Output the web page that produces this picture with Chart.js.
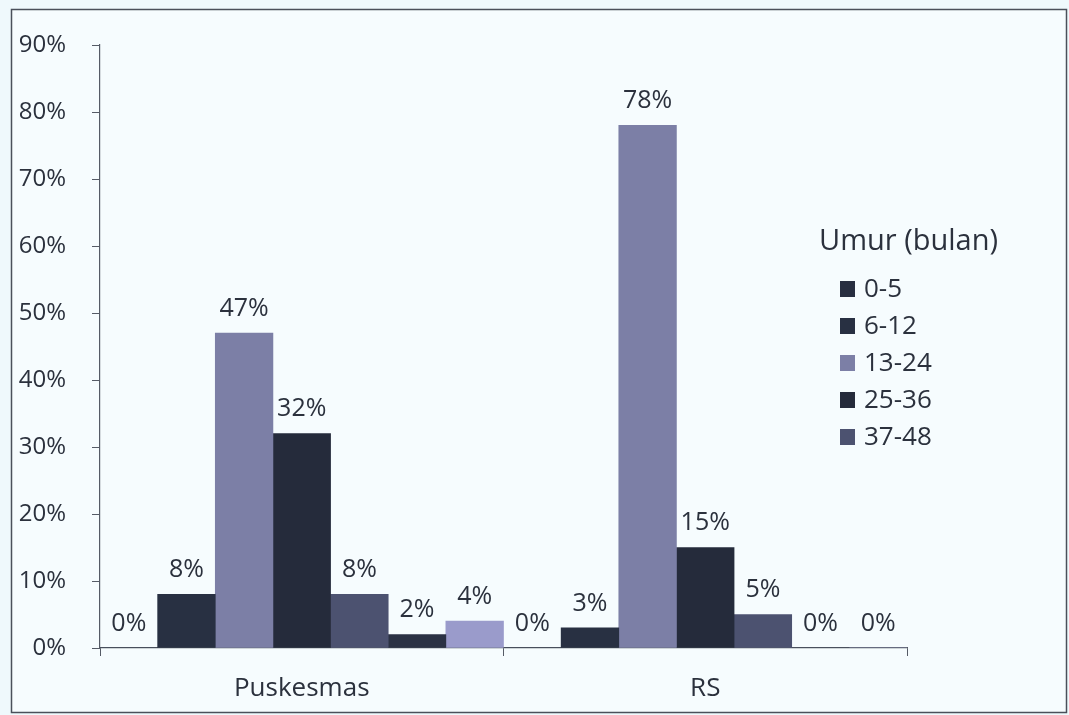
<!DOCTYPE html>
<html>
<head>
<meta charset="utf-8">
<title>Umur (bulan)</title>
<script src="https://cdn.jsdelivr.net/npm/chart.js@4.4.1/dist/chart.umd.min.js"></script>
<style>
    html, body { margin: 0; padding: 0; background: #eff9fc; }
    #wrap { width: 1069px; height: 715px; position: relative; }
</style>
</head>
<body>
<div id="wrap"><canvas id="umurChart"></canvas></div>
<script>
// Age groups per place of care (percent)
const places = ['Puskesmas', 'RS'];
const ageGroups = ['0-5', '6-12', '13-24', '25-36', '37-48', '49-60', '>60'];
const shownInLegend = 5;
const yTicks = [0, 10, 20, 30, 40, 50, 60, 70, 80, 90];

const puskesmasValues = [0, 8, 47, 32, 8, 2, 4];
const rsValues = [0, 3, 78, 15, 5, 0, 0];

const groupColors = ['#272e40', '#283042', '#7c7fa6', '#252b3b', '#4c5270', '#2b3244', '#9a9bcb'];

const textColor = '#2b313d';
const fontFamily = '"Open Sans", "DejaVu Sans", sans-serif';

// Background panel with thin frame
const framePlugin = {
    id: 'frame',
    beforeDraw(chart) {
        const ctx = chart.ctx;
        ctx.save();
        ctx.fillStyle = '#eff9fc';
        ctx.fillRect(0, 0, chart.width, chart.height);
        ctx.fillStyle = '#f6fcfe';
        ctx.fillRect(12, 10, 1054, 702);
        ctx.strokeStyle = '#4a505a';
        ctx.lineWidth = 1.5;
        ctx.strokeRect(11.5, 9.5, 1055, 703);
        ctx.restore();
    }
};

// Percent labels above every bar, zeros included
const valueLabels = {
    id: 'valueLabels',
    afterDatasetsDraw(chart) {
        const ctx = chart.ctx;
        ctx.save();
        ctx.font = '25px ' + fontFamily;
        ctx.fillStyle = textColor;
        ctx.textAlign = 'center';
        ctx.textBaseline = 'bottom';
        chart.data.datasets.forEach((ds, i) => {
            chart.getDatasetMeta(i).data.forEach((bar, j) => {
                ctx.fillText(ds.data[j] + '%', bar.x, bar.y - 12);
            });
        });
        ctx.restore();
    }
};

// Legend box sitting inside the plot on the right
const sideLegend = {
    id: 'sideLegend',
    afterDraw(chart) {
        const ctx = chart.ctx;
        const x = 840, top = 242, step = 37;
        ctx.save();
        ctx.fillStyle = textColor;
        ctx.textBaseline = 'middle';
        ctx.textAlign = 'left';
        ctx.font = '29px ' + fontFamily;
        ctx.fillText('Umur (bulan)', 819, top);
        ctx.font = '26px ' + fontFamily;
        chart.data.datasets.slice(0, shownInLegend).forEach((ds, i) => {
            const y = top + 47 + i * step;
            ctx.fillStyle = ds.backgroundColor;
            ctx.fillRect(x, y - 8, 15, 16);
            ctx.fillStyle = textColor;
            ctx.fillText(ds.label, x + 24, y + 1);
        });
        ctx.restore();
    }
};

const datasets = ageGroups.map((label, i) => ({
    label: label,
    data: [puskesmasValues[i], rsValues[i]],
    backgroundColor: groupColors[i],
    categoryPercentage: 1,
    barPercentage: 1
}));

new Chart(document.getElementById('umurChart'), {
    type: 'bar',
    data: { labels: places, datasets: datasets },
    plugins: [framePlugin, valueLabels, sideLegend],
    options: {
        responsive: true,
        maintainAspectRatio: false,
        animation: false,
        layout: { padding: { top: 45, left: 10, right: 162, bottom: 10 } },
        plugins: {
            legend: { display: false },
            tooltip: { enabled: false }
        },
        scales: {
            x: {
                afterFit: s => { s.height = 57; },
                grid: { drawOnChartArea: false, tickLength: 8, color: '#555b66' },
                border: { color: '#555b66', width: 1.2 },
                ticks: { color: textColor, padding: 17, font: { family: fontFamily, size: 26 } }
            },
            y: {
                min: 0,
                max: 90,
                afterFit: s => { s.width = 90; },
                afterBuildTicks: s => { s.ticks = yTicks.map(v => ({ value: v })); },
                grid: { drawOnChartArea: false, tickLength: 8, color: '#555b66' },
                border: { color: '#555b66', width: 1.2 },
                ticks: {
                    color: textColor,
                    padding: 26,
                    font: { family: fontFamily, size: 24 },
                    callback: v => v + '%'
                }
            }
        }
    }
});
</script>
</body>
</html>
